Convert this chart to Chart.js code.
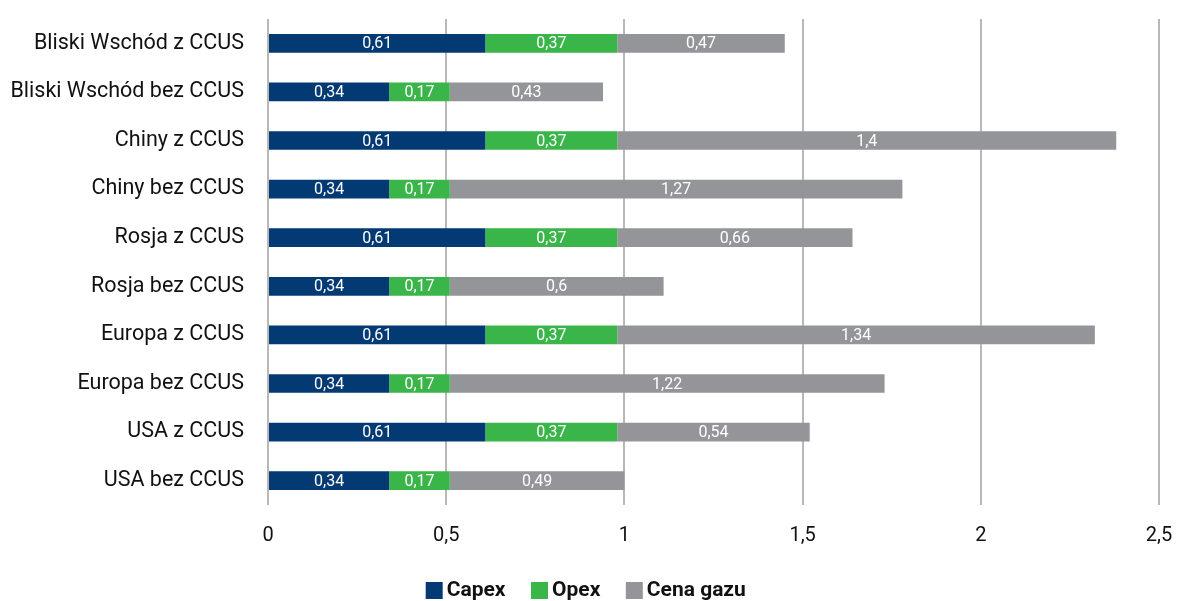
<!DOCTYPE html>
<html>
<head>
<meta charset="utf-8">
<script src="https://cdn.jsdelivr.net/npm/chart.js@4.4.1/dist/chart.umd.min.js"></script>
<style>
  body { margin: 0; background: #fff; }
  #wrap { width: 1178px; height: 601px; }
</style>
</head>
<body>
<div id="wrap"><canvas id="chart"></canvas></div>
<script>
// --- DATA ---
const categories = [
  "Bliski Wschód z CCUS", "Bliski Wschód bez CCUS",
  "Chiny z CCUS", "Chiny bez CCUS",
  "Rosja z CCUS", "Rosja bez CCUS",
  "Europa z CCUS", "Europa bez CCUS",
  "USA z CCUS", "USA bez CCUS"
];
const capex = [0.61, 0.34, 0.61, 0.34, 0.61, 0.34, 0.61, 0.34, 0.61, 0.34];
const opex = [0.37, 0.17, 0.37, 0.17, 0.37, 0.17, 0.37, 0.17, 0.37, 0.17];
const cenaGazu = [0.47, 0.43, 1.4, 1.27, 0.66, 0.6, 1.34, 1.22, 0.54, 0.49];
const seriesNames = ["Capex", "Opex", "Cena gazu"];
const xMin = 0, xMax = 2.5, xStep = 0.5;

const fmt = v => String(v).replace(".", ",");

// white value labels centred in each bar segment
const barLabels = {
  id: "barLabels",
  afterDatasetsDraw(chart) {
    const ctx = chart.ctx;
    ctx.save();
    ctx.font = "16px Roboto";
    ctx.fillStyle = "#ffffff";
    ctx.textAlign = "center";
    ctx.textBaseline = "middle";
    chart.data.datasets.forEach((ds, i) => {
      chart.getDatasetMeta(i).data.forEach((bar, j) => {
        const cx = (bar.x + bar.base) / 2;
        ctx.fillText(fmt(ds.data[j]), cx, bar.y + 1);
      });
    });
    ctx.restore();
  }
};

// pull the legend up a bit closer to the axis (keeps its wide item spacing)
const legendShift = {
  id: "legendShift",
  afterLayout(chart) {
    const lg = chart.legend;
    if (!lg) return;
    lg.top -= 19;
    lg.bottom -= 19;
  }
};

new Chart(document.getElementById("chart"), {
  type: "bar",
  data: {
    labels: categories,
    datasets: [
      { label: seriesNames[0], data: capex, backgroundColor: "#033a73" },
      { label: seriesNames[1], data: opex, backgroundColor: "#3ab54a" },
      { label: seriesNames[2], data: cenaGazu, backgroundColor: "#939598" }
    ]
  },
  options: {
    indexAxis: "y",
    responsive: true,
    maintainAspectRatio: false,
    animation: false,
    datasets: { bar: { categoryPercentage: 1, barPercentage: 0.385 } },
    layout: { padding: { top: 19, right: 0, bottom: -29, left: 0 } },
    plugins: {
      legend: {
        position: "bottom",
        labels: {
          font: { family: "Roboto", size: 21, weight: "bold" },
          color: "#111",
          // narrow slot + square point style keeps the square close to its text
          usePointStyle: true,
          pointStyle: "rect",
          boxWidth: 4,
          boxHeight: 17,
          padding: 32
        }
      },
      tooltip: { enabled: false }
    },
    scales: {
      x: {
        stacked: true,
        min: xMin,
        max: xMax,
        border: { display: false },
        grid: { color: "#b8b8b8", lineWidth: 2, drawTicks: false },
        ticks: {
          stepSize: xStep,
          padding: 19,
          color: "#111",
          font: { family: "Roboto", size: 20 },
          callback: v => fmt(v)
        },
        afterFit(scale) { scale.paddingLeft = 0; scale.paddingRight = 19; }
      },
      y: {
        stacked: true,
        border: { display: false },
        grid: { display: false, drawTicks: false },
        ticks: {
          padding: 24,
          color: "#111",
          font: { family: "Roboto", size: 21.5 }
        },
        afterFit(scale) {
          scale.width = 268;
          scale.paddingTop = 0;
          scale.paddingBottom = 0;
        }
      }
    }
  },
  plugins: [barLabels, legendShift]
});
</script>
</body>
</html>
